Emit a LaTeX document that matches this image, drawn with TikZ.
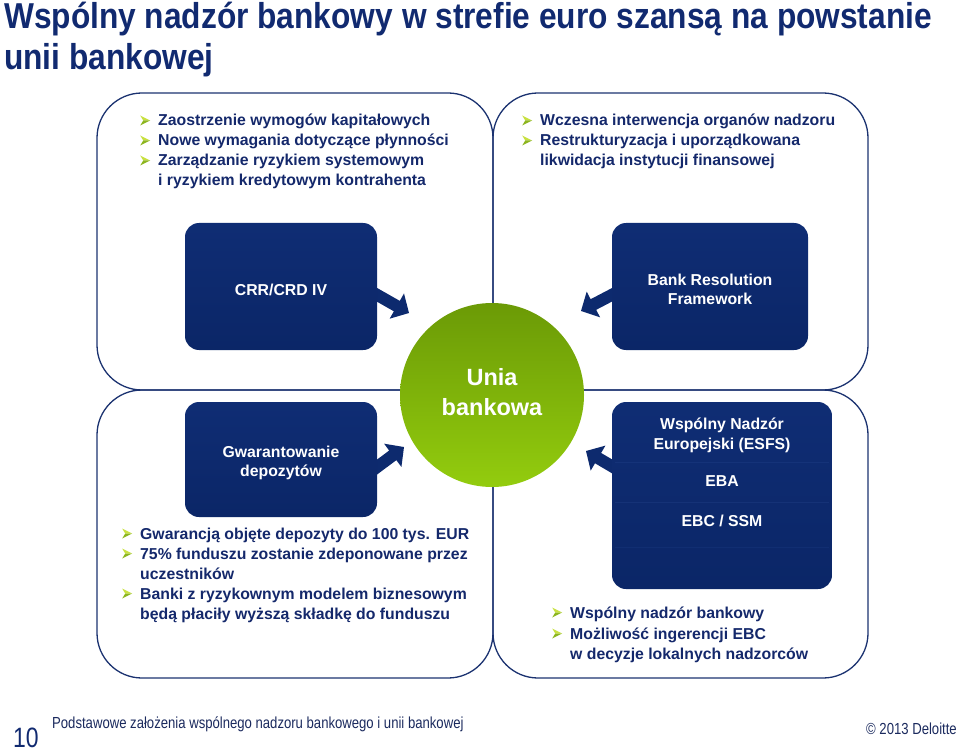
\documentclass[tikz,border=0pt]{standalone}
\usepackage{fontspec}
\setmainfont{Liberation Sans}
\usetikzlibrary{calc}
\definecolor{navy}{HTML}{14286B}
\definecolor{titlecol}{HTML}{112A70}
\definecolor{boxblue}{HTML}{0D2A6E}
\definecolor{boxtop}{HTML}{0F2D74}
\definecolor{boxbot}{HTML}{0B2667}
\definecolor{bandcol}{HTML}{1D3B82}
\definecolor{panelcol}{HTML}{1B3270}
\definecolor{gtop}{HTML}{6B9A06}
\definecolor{gbot}{HTML}{93CC0E}
\definecolor{bula}{HTML}{C8E040}
\definecolor{bulb}{HTML}{8CB51E}
\definecolor{footcol}{HTML}{1B2A5E}
\newcommand{\bul}{\makebox[18pt][l]{\tikz[x=1pt,y=1pt,baseline=-5.5pt]{\fill[bula] (0,5)--(10,0)--(3,0)--cycle; \fill[bulb] (3,0)--(10,0)--(0,-5)--cycle;}}}
\newcommand{\blockarrow}[2]{%
  \path ($(#2)!14pt!(#1)$) coordinate (ba-b);
  \fill[boxblue] ($(#1)!6pt!90:(#2)$) -- ($(ba-b)!6pt!-90:(#1)$) -- ($(ba-b)!14.5pt!-90:(#1)$) -- (#2)
    -- ($(ba-b)!14.5pt!90:(#1)$) -- ($(ba-b)!6pt!90:(#1)$) -- ($(#1)!6pt!-90:(#2)$) -- cycle;}
\tikzset{
  panelbox/.style={draw=panelcol, line width=1.3pt, rounded corners=45pt},
  bluebox/.style={rounded corners=14pt, top color=boxtop, bottom color=boxbot, draw=none, inner sep=0},
  btxt/.style={font=\fontsize{15.8}{20}\selectfont\bfseries, text=navy, anchor=base west, inner sep=0},
  wtxt/.style={font=\fontsize{15.8}{20}\selectfont\bfseries, text=white, anchor=base, inner sep=0},
  titletxt/.style={font=\fontsize{36}{40}\selectfont\bfseries, text=titlecol, anchor=base west, inner sep=0},
  foottxt/.style={font=\fontsize{16}{18}\selectfont, text=footcol, inner sep=0},
}
\begin{document}
\begin{tikzpicture}[x=1pt,y=-1pt]
\useasboundingbox (0,0) rectangle (960,751);
% title
\node[titletxt] (title1) at (4,29) {\scalebox{0.88}[1]{Wspólny nadzór bankowy w strefie euro szansą na powstanie}};
\node[titletxt] (title2) at (4,70) {\scalebox{0.88}[1]{unii bankowej}};
% panels
\draw[panelbox] (97,93) rectangle (493,390);
\draw[panelbox] (493,93) rectangle (868,390);
\draw[panelbox] (97,390) rectangle (493,678);
\draw[panelbox] (493,390) rectangle (868,678);
% arrows (drawn beneath boxes)
\coordinate (a1s) at (365,288);
\coordinate (a1e) at (409,313);
\blockarrow{a1s}{a1e}
\coordinate (a2s) at (625,288);
\coordinate (a2e) at (581,311);
\blockarrow{a2s}{a2e}
\coordinate (a3s) at (365,476);
\coordinate (a3e) at (404,447);
\blockarrow{a3s}{a3e}
\coordinate (a4s) at (625,474);
\coordinate (a4e) at (586,451);
\blockarrow{a4s}{a4e}
% boxes
\node[bluebox, minimum width=192pt, minimum height=127pt] (crr) at (281,286.5) {};
\node[bluebox, minimum width=196pt, minimum height=127pt] (brf) at (710,286.5) {};
\node[bluebox, minimum width=192pt, minimum height=115pt] (gd) at (281,459.5) {};
\node[bluebox, minimum width=220pt, minimum height=187pt] (esfs) at (722,495.5) {};
\draw[bandcol, line width=0.8pt, opacity=0.5] ([xshift=3pt]esfs.west |- 0,462) -- ([xshift=-3pt]esfs.east |- 0,462);
\draw[bandcol, line width=0.8pt, opacity=0.5] ([xshift=3pt]esfs.west |- 0,502) -- ([xshift=-3pt]esfs.east |- 0,502);
\draw[bandcol, line width=0.8pt, opacity=0.35] ([xshift=3pt]esfs.west |- 0,547) -- ([xshift=-3pt]esfs.east |- 0,547);
% circle
\node[circle, minimum size=184pt, inner sep=0, top color=gtop, bottom color=gbot] (ub) at (492,395) {};
\node[wtxt, font=\fontsize{23.5}{30}\selectfont\bfseries] (ub1) at (492,385) {Unia};
\node[wtxt, font=\fontsize{23.5}{30}\selectfont\bfseries] (ub2) at (492,415) {bankowa};
% box texts
\node[wtxt] (crrt) at (281,295.5) {CRR/CRD IV};
\node[wtxt] (brft1) at (710,285) {Bank Resolution};
\node[wtxt] (brft2) at (710,304) {Framework};
\node[wtxt] (gdt1) at (281,457) {Gwarantowanie};
\node[wtxt] (gdt2) at (281,476) {depozytów};
\node[wtxt] (esfst1) at (722,429) {Wspólny Nadzór};
\node[wtxt] (esfst2) at (722,449) {Europejski (ESFS)};
\node[wtxt] (esfst3) at (722,486) {EBA};
\node[wtxt] (esfst4) at (722,526) {EBC / SSM};
% top-left bullets
\node[btxt] (tl1) at (140,126) {\bul Zaostrzenie wymogów kapitałowych};
\node[btxt] (tl2) at (140,146) {\bul Nowe wymagania dotyczące płynności};
\node[btxt] (tl3) at (140,166) {\bul Zarządzanie ryzykiem systemowym};
\node[btxt] (tl4) at (158,186) {i ryzykiem kredytowym kontrahenta};
% top-right bullets
\node[btxt] (tr1) at (522,126) {\bul Wczesna interwencja organów nadzoru};
\node[btxt] (tr2) at (522,146) {\bul Restrukturyzacja i uporządkowana};
\node[btxt] (tr3) at (540,166) {likwidacja instytucji finansowej};
% bottom-left bullets
\node[btxt] (bl1) at (122,539) {\bul Gwarancją objęte depozyty do 100 tys. EUR};
\node[btxt] (bl2) at (122,559) {\bul 75\% funduszu zostanie zdeponowane przez};
\node[btxt] (bl3) at (140,579) {uczestników};
\node[btxt] (bl4) at (122,599) {\bul Banki z ryzykownym modelem biznesowym};
\node[btxt] (bl5) at (140,619) {będą płaciły wyższą składkę do funduszu};
% bottom-right bullets
\node[btxt] (br1) at (552,618) {\bul Wspólny nadzór bankowy};
\node[btxt] (br2) at (552,639) {\bul Możliwość ingerencji EBC};
\node[btxt] (br3) at (570,659) {w decyzje lokalnych nadzorców};
% footer
\node[foottxt, anchor=base west, font=\fontsize{28}{30}\selectfont, text=titlecol] (pg) at (13,747) {\scalebox{0.82}[1]{10}};
\node[foottxt, anchor=base west] (ft) at (52,728) {\scalebox{0.82}[1]{Podstawowe założenia wspólnego nadzoru bankowego i unii bankowej}};
\node[foottxt, anchor=base east] (cp) at (957,734) {\scalebox{0.82}[1]{© 2013 Deloitte}};
\end{tikzpicture}
\end{document}
